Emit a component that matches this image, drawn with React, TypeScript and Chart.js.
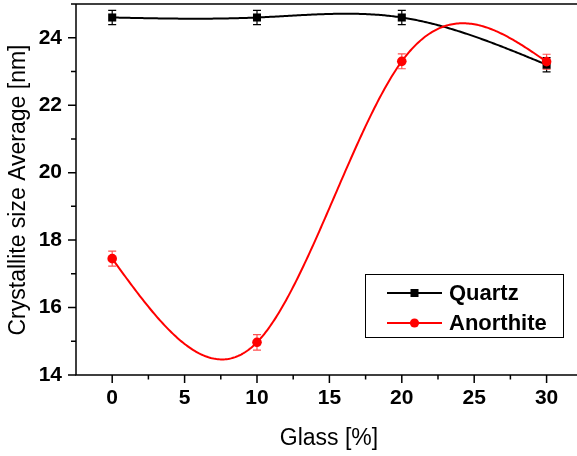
import React, { useEffect, useRef } from "react";
import { Chart, registerables } from "chart.js";

Chart.register(...registerables);

const glassPct = [0, 10, 20, 30];
const quartz = [24.6, 24.6, 24.6, 23.2];
const quartzErr = [0.21, 0.21, 0.21, 0.21];
const anorthite = [17.45, 14.97, 23.3, 23.29];
const anorthiteErr = [0.22, 0.23, 0.22, 0.22];
const seriesNames = ["Quartz", "Anorthite"];
const seriesColors = ["#000000", "#ff0000"];
const errColors = ["#000000", "#ff5050"];
const xMajorTicks = [0, 5, 10, 15, 20, 25, 30];
const yMajorTicks = [14, 16, 18, 20, 22, 24];
const xTitle = "Glass [%]";
const yTitle = "Crystallite size Average [nm]";

const FONT = "'Liberation Sans', Arial, Helvetica, sans-serif";

function naturalSpline(xs: number[], ys: number[]) {
  const n = xs.length;
  const h: number[] = [];
  for (let i = 0; i < n - 1; i++) h.push(xs[i + 1] - xs[i]);
  const M = new Array(n).fill(0);
  if (n > 2) {
    const m = n - 2;
    const a: number[] = [], b: number[] = [], c: number[] = [], d: number[] = [];
    for (let i = 1; i <= m; i++) {
      a.push(h[i - 1]);
      b.push(2 * (h[i - 1] + h[i]));
      c.push(h[i]);
      d.push(6 * ((ys[i + 1] - ys[i]) / h[i] - (ys[i] - ys[i - 1]) / h[i - 1]));
    }
    for (let i = 1; i < m; i++) {
      const w = a[i] / b[i - 1];
      b[i] -= w * c[i - 1];
      d[i] -= w * d[i - 1];
    }
    const sol = new Array(m).fill(0);
    sol[m - 1] = d[m - 1] / b[m - 1];
    for (let i = m - 2; i >= 0; i--) sol[i] = (d[i] - c[i] * sol[i + 1]) / b[i];
    for (let i = 0; i < m; i++) M[i + 1] = sol[i];
  }
  return (x: number) => {
    let i = 0;
    while (i < n - 2 && x > xs[i + 1]) i++;
    const hi = h[i];
    const t1 = xs[i + 1] - x;
    const t0 = x - xs[i];
    return (
      (M[i] * t1 * t1 * t1) / (6 * hi) +
      (M[i + 1] * t0 * t0 * t0) / (6 * hi) +
      (ys[i] / hi - (M[i] * hi) / 6) * t1 +
      (ys[i + 1] / hi - (M[i + 1] * hi) / 6) * t0
    );
  };
}

const seriesValues = [quartz, anorthite];
const seriesErrs = [quartzErr, anorthiteErr];

const originPlugin = {
  id: "originDeco",
  beforeDatasetsDraw(chart: any) {
    const { ctx, chartArea, scales } = chart;
    const xs = scales.x;
    const ys = scales.y;
    ctx.save();
    ctx.beginPath();
    ctx.rect(chartArea.left, chartArea.top, chartArea.right - chartArea.left, chartArea.bottom - chartArea.top);
    ctx.clip();
    seriesValues.forEach((vals, si) => {
      const f = naturalSpline(glassPct, vals);
      ctx.beginPath();
      ctx.strokeStyle = seriesColors[si];
      ctx.lineWidth = 2;
      ctx.lineJoin = "round";
      const x0 = glassPct[0];
      const x1 = glassPct[glassPct.length - 1];
      const N = 300;
      for (let k = 0; k <= N; k++) {
        const xv = x0 + ((x1 - x0) * k) / N;
        const px = xs.getPixelForValue(xv);
        const py = ys.getPixelForValue(f(xv));
        if (k === 0) ctx.moveTo(px, py);
        else ctx.lineTo(px, py);
      }
      ctx.stroke();
      // error bars
      ctx.strokeStyle = errColors[si];
      ctx.lineWidth = 1.2;
      vals.forEach((v, i) => {
        const e = seriesErrs[si][i];
        const px = xs.getPixelForValue(glassPct[i]);
        const pt = ys.getPixelForValue(v + e);
        const pb = ys.getPixelForValue(v - e);
        ctx.beginPath();
        ctx.moveTo(px, pt);
        ctx.lineTo(px, pb);
        ctx.moveTo(px - 4, pt);
        ctx.lineTo(px + 4, pt);
        ctx.moveTo(px - 4, pb);
        ctx.lineTo(px + 4, pb);
        ctx.stroke();
      });
    });
    ctx.restore();
  },
  afterDraw(chart: any) {
    const { ctx, chartArea, scales } = chart;
    const xs = scales.x;
    const ys = scales.y;
    const L = chartArea.left;
    const B = chartArea.bottom;
    const T = chartArea.top;
    const R = chartArea.right;
    ctx.save();
    ctx.strokeStyle = "#000";
    ctx.lineWidth = 1.5;
    ctx.beginPath();
    ctx.moveTo(L, T);
    ctx.lineTo(L, B);
    ctx.lineTo(R, B);
    ctx.moveTo(L, T);
    ctx.lineTo(R, T);
    ctx.stroke();
    ctx.beginPath();
    xMajorTicks.forEach((v) => {
      const px = xs.getPixelForValue(v);
      ctx.moveTo(px, B);
      ctx.lineTo(px, B + 8);
      const mv = v + 2.5;
      if (mv <= xs.max) {
        const pm = xs.getPixelForValue(mv);
        ctx.moveTo(pm, B);
        ctx.lineTo(pm, B + 4.5);
      }
    });
    yMajorTicks.forEach((v) => {
      const py = ys.getPixelForValue(v);
      ctx.moveTo(L - 8, py);
      ctx.lineTo(L, py);
      const mv = v + 1;
      if (mv <= ys.max) {
        const pm = ys.getPixelForValue(mv);
        ctx.moveTo(L - 5, pm);
        ctx.lineTo(L, pm);
      }
    });
    ctx.stroke();
    ctx.fillStyle = "#000";
    ctx.font = `23px ${FONT}`;
    ctx.textAlign = "center";
    ctx.textBaseline = "middle";
    ctx.fillText(xTitle, 329, 439);
    ctx.save();
    ctx.translate(19, 190);
    ctx.rotate(-Math.PI / 2);
    ctx.fillText(yTitle, 0, 0);
    ctx.restore();
    ctx.lineWidth = 1;
    ctx.strokeStyle = "#000";
    ctx.fillStyle = "#fff";
    ctx.fillRect(365, 274, 198, 63);
    ctx.strokeRect(365.5, 274.5, 198, 63);
    const rows = [293, 323];
    seriesNames.forEach((name, si) => {
      const yy = rows[si];
      ctx.strokeStyle = seriesColors[si];
      ctx.lineWidth = 2;
      ctx.beginPath();
      ctx.moveTo(387, yy);
      ctx.lineTo(442, yy);
      ctx.stroke();
      ctx.fillStyle = seriesColors[si];
      if (si === 0) {
        ctx.fillRect(414.5 - 4, yy - 4, 8, 8);
      } else {
        ctx.beginPath();
        ctx.arc(414.5, yy, 4.6, 0, Math.PI * 2);
        ctx.fill();
      }
      ctx.fillStyle = "#000";
      ctx.font = `bold 22px ${FONT}`;
      ctx.textAlign = "left";
      ctx.textBaseline = "middle";
      ctx.fillText(name, 449, yy + 1);
    });
    ctx.restore();
  },
};

export default function App() {
  const ref = useRef<HTMLCanvasElement | null>(null);
  useEffect(() => {
    if (!ref.current) return;
    const chart = new Chart(ref.current, {
      type: "scatter",
      data: {
        datasets: [
          {
            label: seriesNames[0],
            data: glassPct.map((x, i) => ({ x, y: quartz[i] })),
            showLine: false,
            pointStyle: "rect",
            pointRadius: 5.7,
            backgroundColor: seriesColors[0],
            borderColor: seriesColors[0],
            borderWidth: 0,
            order: 1,
          },
          {
            label: seriesNames[1],
            data: glassPct.map((x, i) => ({ x, y: anorthite[i] })),
            showLine: false,
            pointStyle: "circle",
            pointRadius: 4.8,
            backgroundColor: seriesColors[1],
            borderColor: seriesColors[1],
            borderWidth: 0,
            order: 0,
          },
        ],
      },
      options: {
        animation: false,
        responsive: false,
        maintainAspectRatio: false,
        events: [],
        layout: { padding: { top: 4, left: 0, right: 0, bottom: 0 }, autoPadding: false },
        plugins: { legend: { display: false }, tooltip: { enabled: false } },
        scales: {
          x: {
            type: "linear",
            min: -2.5,
            max: 32.1,
            grid: { display: false, drawTicks: false },
            border: { display: false },
            afterFit: (s: any) => {
              s.height = 81;
              s.paddingLeft = 0;
              s.paddingRight = 0;
            },
            ticks: {
              stepSize: 2.5,
              includeBounds: false,
              autoSkip: false,
              maxRotation: 0,
              padding: 11,
              color: "#000",
              font: { family: FONT, size: 21, weight: "bold" },
              callback: (v: any) => {
                const n = Number(v);
                return xMajorTicks.some((t) => Math.abs(t - n) < 1e-6) ? String(Math.round(n)) : "";
              },
            },
          },
          y: {
            type: "linear",
            min: 14,
            max: 25,
            grid: { display: false, drawTicks: false },
            border: { display: false },
            afterFit: (s: any) => {
              s.width = 76;
              s.paddingTop = 0;
              s.paddingBottom = 0;
            },
            ticks: {
              stepSize: 1,
              includeBounds: false,
              autoSkip: false,
              padding: 14,
              color: "#000",
              font: { family: FONT, size: 21, weight: "bold" },
              callback: (v: any) => {
                const n = Number(v);
                return yMajorTicks.some((t) => Math.abs(t - n) < 1e-6) ? String(Math.round(n)) : "";
              },
            },
          },
        },
      },
      plugins: [originPlugin],
    } as any);
    return () => chart.destroy();
  }, []);
  return (
    <div style={{ position: "fixed", left: 0, top: 0, width: 577, height: 456, background: "#fff" }}>
      <canvas ref={ref} width={577} height={456} />
    </div>
  );
}
